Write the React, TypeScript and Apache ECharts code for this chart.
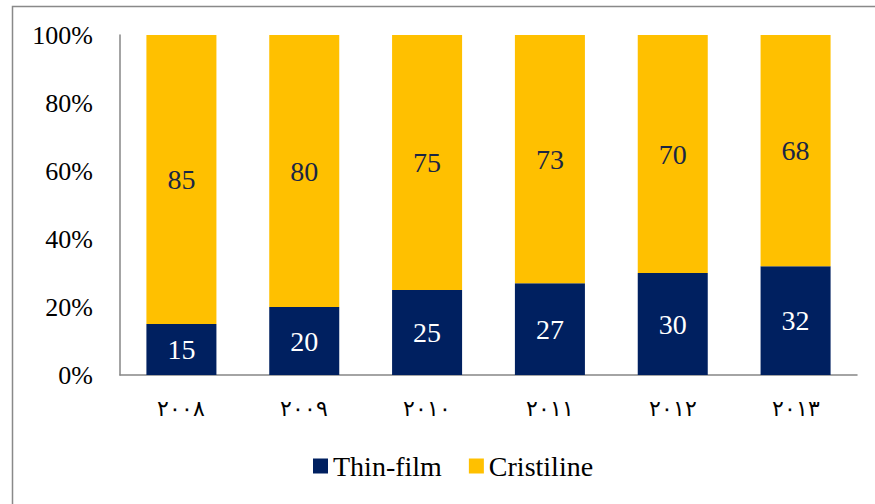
import React, { useEffect, useRef } from "react";
import * as echarts from "echarts";

const categories = ["٢٠٠٨", "٢٠٠٩", "٢٠١٠", "٢٠١١", "٢٠١٢", "٢٠١٣"];
const thinFilm = [15, 20, 25, 27, 30, 32];
const cristiline = [85, 80, 75, 73, 70, 68];
const seriesNames = ["Thin-film", "Cristiline"];

const FONT = "Liberation Serif";

export default function App() {
  const ref = useRef<HTMLDivElement>(null);
  useEffect(() => {
    if (!ref.current) return;
    const chart = echarts.init(ref.current, undefined, { renderer: "svg" });
    chart.setOption({
      animation: false,
      backgroundColor: "#ffffff",
      textStyle: { fontFamily: FONT },
      graphic: [
        {
          type: "rect",
          shape: { x: 12.5, y: 6.5, width: 900, height: 600 },
          style: { fill: "none", stroke: "#898989", lineWidth: 1.5 },
          silent: true,
          z: -1,
        },
      ],
      grid: { left: 120, right: 18, top: 35, bottom: 129, containLabel: false },
      legend: {
        bottom: 19,
        left: 308,
        itemWidth: 15,
        itemHeight: 15,
        itemGap: 27,
        icon: "rect",
        textStyle: { fontFamily: FONT, fontSize: 28, color: "#000" },
        data: seriesNames,
      },
      xAxis: {
        type: "category",
        data: categories,
        axisLine: { lineStyle: { color: "#868686", width: 1.5 } },
        axisTick: { show: false },
        axisLabel: { fontFamily: FONT, fontSize: 22, color: "#000", margin: 22 },
      },
      yAxis: {
        type: "value",
        min: 0,
        max: 100,
        interval: 20,
        axisLine: { show: true, lineStyle: { color: "#868686", width: 1.5 } },
        axisTick: { show: false },
        splitLine: { show: false },
        axisLabel: {
          formatter: "{value}%",
          fontFamily: FONT,
          fontSize: 26,
          color: "#000",
          margin: 27,
        },
      },
      series: [
        {
          name: seriesNames[0],
          type: "bar",
          stack: "total",
          barWidth: "57%",
          data: thinFilm,
          itemStyle: { color: "#002060" },
          label: {
            show: true,
            position: "inside",
            color: "#ffffff",
            fontFamily: FONT,
            fontSize: 28,
          },
        },
        {
          name: seriesNames[1],
          type: "bar",
          stack: "total",
          barWidth: "57%",
          data: cristiline,
          itemStyle: { color: "#FFC000" },
          label: {
            show: true,
            position: "inside",
            color: "#1a2644",
            fontFamily: FONT,
            fontSize: 28,
          },
        },
      ],
    });
    return () => chart.dispose();
  }, []);
  return (
    <div
      ref={ref}
      style={{ position: "absolute", left: 0, top: 0, width: 875, height: 504 }}
    />
  );
}
